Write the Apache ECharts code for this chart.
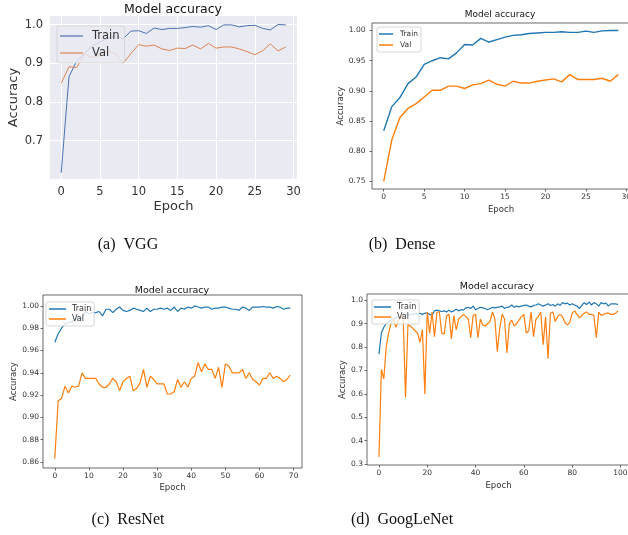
<!DOCTYPE html>
<html>
<head>
<meta charset="utf-8">
<script src="https://cdn.jsdelivr.net/npm/echarts@6/dist/echarts.min.js"></script>
<style>
  html, body { margin: 0; padding: 0; background: #fff; }
  #main { width: 628px; height: 535px; }
</style>
</head>
<body>
<div id="main"></div>
<script>
// accuracy per epoch
var vggTrain = [0.617, 0.865, 0.906, 0.925, 0.945, 0.955, 0.965, 0.97, 0.963, 0.983,
  0.984, 0.977, 0.991, 0.987, 0.99, 0.99, 0.992, 0.995, 0.993, 0.997,
  0.987, 0.999, 0.999, 0.994, 0.997, 0.998, 0.99, 0.986, 1.0, 0.999];
var vggVal = [0.848, 0.891, 0.889, 0.924, 0.915, 0.92, 0.93, 0.925, 0.9, 0.925,
  0.948, 0.944, 0.947, 0.937, 0.933, 0.939, 0.938, 0.947, 0.937, 0.951,
  0.939, 0.942, 0.942, 0.937, 0.93, 0.922, 0.932, 0.95, 0.932, 0.942];

var denseTrain = [0.834, 0.874, 0.889, 0.912, 0.923, 0.944, 0.95, 0.955, 0.953, 0.963,
  0.977, 0.976, 0.987, 0.981, 0.985, 0.989, 0.992, 0.993, 0.995, 0.996,
  0.997, 0.997, 0.998, 0.997, 0.997, 0.999, 0.997, 0.9995, 1.0, 1.0];
var denseVal = [0.75, 0.819, 0.856, 0.871, 0.879, 0.89, 0.901, 0.901, 0.908, 0.908,
  0.904, 0.91, 0.912, 0.918, 0.911, 0.908, 0.916, 0.913, 0.913, 0.916,
  0.918, 0.92, 0.915, 0.927, 0.919, 0.919, 0.919, 0.921, 0.916, 0.927];

var resTrain = [0.9675, 0.975, 0.98, 0.984, 0.985, 0.986, 0.988, 0.99, 0.988, 0.995,
  0.993, 0.994, 0.994, 0.995, 0.991, 0.997, 0.997, 0.994, 0.997, 0.999,
  0.996, 0.995, 0.996, 0.998, 0.997, 0.996, 0.995, 0.998, 0.995, 0.997,
  0.997, 0.998, 0.997, 0.998, 0.996, 0.999, 0.995, 0.998, 0.997, 0.999,
  0.998, 1.0, 0.999, 0.998, 0.999, 0.999, 0.997, 0.998, 0.998, 0.999,
  0.999, 0.998, 0.997, 0.997, 0.996, 0.999, 0.998, 0.996, 0.999, 0.999,
  0.999, 0.9995, 0.999, 0.999, 0.998, 0.9995, 0.999, 0.997, 0.998, 0.998];
var resVal = [0.863, 0.915, 0.917, 0.928, 0.922, 0.928, 0.927, 0.928, 0.94, 0.935,
  0.935, 0.935, 0.935, 0.93, 0.927, 0.927, 0.93, 0.935, 0.932, 0.924,
  0.932, 0.935, 0.937, 0.924, 0.926, 0.931, 0.943, 0.927, 0.937, 0.934,
  0.93, 0.93, 0.93, 0.921, 0.921, 0.923, 0.934, 0.927, 0.932, 0.927,
  0.935, 0.937, 0.949, 0.941, 0.948, 0.943, 0.943, 0.935, 0.945, 0.927,
  0.948, 0.946, 0.94, 0.94, 0.94, 0.943, 0.935, 0.94, 0.934, 0.932,
  0.929, 0.935, 0.935, 0.94, 0.935, 0.937, 0.935, 0.932, 0.934, 0.938];

var googTrain = [0.77, 0.86, 0.885, 0.9, 0.91, 0.915, 0.92, 0.925, 0.93, 0.93,
  0.935, 0.94, 0.935, 0.94, 0.94, 0.945, 0.94, 0.945, 0.94, 0.945,
  0.945, 0.94, 0.935, 0.955, 0.958, 0.955, 0.952, 0.955, 0.95, 0.958,
  0.95, 0.955, 0.962, 0.955, 0.96, 0.958, 0.968, 0.97, 0.965, 0.975,
  0.96, 0.965, 0.97, 0.968, 0.965, 0.96, 0.965, 0.97, 0.968, 0.97,
  0.972, 0.975, 0.965, 0.97, 0.972, 0.98, 0.97, 0.975, 0.972, 0.975,
  0.978, 0.98, 0.975, 0.972, 0.978, 0.98, 0.985, 0.98, 0.975, 0.98,
  0.985, 0.978, 0.982, 0.975, 0.985, 0.978, 0.99, 0.985, 0.988, 0.98,
  0.985, 0.98, 0.975, 0.965, 0.978, 0.99, 0.982, 0.992, 0.98, 0.99,
  0.985, 0.975, 0.99, 0.985, 0.988, 0.975, 0.985, 0.985, 0.985, 0.982];
var googVal = [0.33, 0.705, 0.664, 0.8, 0.86, 0.9, 0.92, 0.885, 0.91, 0.93,
  0.94, 0.585, 0.895, 0.89, 0.88, 0.87, 0.86, 0.82, 0.875, 0.6,
  0.95, 0.86, 0.95, 0.845, 0.95, 0.95, 0.86, 0.855, 0.935, 0.94,
  0.835, 0.935, 0.875, 0.92, 0.93, 0.94, 0.93, 0.92, 0.84, 0.935,
  0.94, 0.84, 0.92, 0.895, 0.89, 0.9, 0.91, 0.95, 0.92, 0.78,
  0.88, 0.94, 0.92, 0.775, 0.9, 0.915, 0.89, 0.9, 0.915, 0.93,
  0.94, 0.86, 0.87, 0.95, 0.845, 0.92, 0.93, 0.95, 0.81, 0.93,
  0.75, 0.945, 0.95, 0.91, 0.93, 0.94, 0.93, 0.905, 0.895, 0.905,
  0.945, 0.955, 0.94, 0.925, 0.935, 0.945, 0.95, 0.94, 0.94, 0.935,
  0.84, 0.95, 0.935, 0.94, 0.945, 0.945, 0.94, 0.94, 0.945, 0.955];

// tick labels
var epochTicks30 = [0, 5, 10, 15, 20, 25, 30];
var epochTicks70 = [0, 10, 20, 30, 40, 50, 60, 70];
var epochTicks100 = [0, 20, 40, 60, 80, 100];
var vggYTicks = [0.7, 0.8, 0.9, 1.0];
var denseYTicks = [0.75, 0.80, 0.85, 0.90, 0.95, 1.00];
var resYTicks = [0.86, 0.88, 0.90, 0.92, 0.94, 0.96, 0.98, 1.00];
var googYTicks = [0.3, 0.4, 0.5, 0.6, 0.7, 0.8, 0.9, 1.0];

var captions = ['(a)  VGG', '(b)  Dense', '(c)  ResNet', '(d)  GoogLeNet'];

var FONT = 'DejaVu Sans';
var myChart = echarts.init(document.getElementById('main'));

function toPairs(arr) {
  return arr.map(function (v, i) { return [i, v]; });
}

// plain matplotlib style axis (frame drawn by grid border)
function mplAxis(grid, min, max, ticks, digits, fontSize, name, nameGap, nameSize, isY, labelGap) {
  return {
    type: 'value', gridIndex: grid, min: min, max: max,
    axisLine: { show: false, onZero: false },
    axisTick: { show: true, length: 2.5, customValues: ticks, lineStyle: { color: '#444', width: 0.8 } },
    axisLabel: {
      customValues: ticks, color: '#333', fontFamily: FONT, fontSize: fontSize, margin: labelGap || 4,
      formatter: function (v) { return v.toFixed(digits); }
    },
    splitLine: { show: false },
    name: name, nameLocation: 'middle', nameGap: nameGap, nameRotate: isY ? 90 : 0,
    nameTextStyle: { color: '#333', fontFamily: FONT, fontSize: nameSize }
  };
}

// seaborn darkgrid style axis
function snsAxis(grid, min, max, ticks, digits, name, nameGap) {
  return {
    type: 'value', gridIndex: grid, min: min, max: max,
    axisLine: { show: false, onZero: false },
    axisTick: { show: false, customValues: ticks },
    axisLabel: {
      customValues: ticks, color: '#333', fontFamily: FONT, fontSize: 11.5, margin: 7,
      formatter: function (v) { return v.toFixed(digits); }
    },
    splitLine: { show: true, lineStyle: { color: '#fff', width: 1 } },
    name: name, nameLocation: 'middle', nameGap: nameGap,
    nameTextStyle: { color: '#333', fontFamily: FONT, fontSize: 13 }
  };
}

function lineSeries(name, grid, data, color, width) {
  return {
    name: name, type: 'line', xAxisIndex: grid, yAxisIndex: grid,
    data: toPairs(data), showSymbol: false, symbol: 'none', animation: false,
    lineStyle: { color: color, width: width }, itemStyle: { color: color }
  };
}

function legendBox(left, top, colors, opts) {
  return {
    orient: 'vertical', left: left, top: top, icon: 'rect',
    itemWidth: opts.itemWidth, itemHeight: opts.itemHeight, itemGap: opts.itemGap,
    padding: opts.padding, backgroundColor: opts.bg, borderColor: opts.border,
    borderWidth: 0.8, borderRadius: 2, selectedMode: false,
    textStyle: { fontFamily: FONT, fontSize: opts.fontSize, color: '#333', padding: [0, 0, 0, opts.textPad] },
    data: [
      { name: 'Train', itemStyle: { color: colors[0] } },
      { name: 'Val', itemStyle: { color: colors[1] } }
    ]
  };
}

function textEl(text, x, y, size, family, rotation) {
  return {
    type: 'text', x: x, y: y, rotation: rotation || 0,
    style: { text: text, fontSize: size, fontFamily: family, fill: '#111', textAlign: 'center', textVerticalAlign: 'middle' }
  };
}

var mplBlue = '#1f77b4', mplOrange = '#ff7f0e';
var snsBlue = '#4c72b0', snsOrange = '#dd8452';

var option = {
  animation: false,
  backgroundColor: '#fff',
  grid: [
    { left: 50, top: 16, width: 247, height: 163, show: true, backgroundColor: '#eaeaf2', borderWidth: 0, outerBoundsMode: 'none' },
    { left: 372, top: 23, width: 258, height: 166, show: true, borderColor: '#444', borderWidth: 0.8, outerBoundsMode: 'none' },
    { left: 43, top: 295, width: 259, height: 173, show: true, borderColor: '#444', borderWidth: 0.8, outerBoundsMode: 'none' },
    { left: 367, top: 294, width: 263, height: 171, show: true, borderColor: '#444', borderWidth: 0.8, outerBoundsMode: 'none' }
  ],
  xAxis: [
    snsAxis(0, -1.45, 30.45, epochTicks30, 0, 'Epoch', 21),
    mplAxis(1, -1.45, 30.45, epochTicks30, 0, 7.5, 'Epoch', 16, 8.5, false),
    mplAxis(2, -3.45, 72.45, epochTicks70, 0, 7.5, 'Epoch', 15, 8.5, false),
    mplAxis(3, -4.95, 103.95, epochTicks100, 0, 7.5, 'Epoch', 16, 8.5, false)
  ],
  yAxis: [
    snsAxis(0, 0.601, 1.022, vggYTicks, 1, 'Accuracy', 30),
    mplAxis(1, 0.7375, 1.0125, denseYTicks, 2, 7.5, 'Accuracy', 26, 8.5, true, 6.5),
    mplAxis(2, 0.8546, 1.0098, resYTicks, 2, 7.5, 'Accuracy', 25, 8.5, true),
    mplAxis(3, 0.296, 1.027, googYTicks, 1, 7.5, 'Accuracy', 19, 8.5, true)
  ],
  legend: [
    legendBox(57, 26, [snsBlue, snsOrange], { itemWidth: 23, itemHeight: 1.2, itemGap: 5, padding: [4, 5, 4, 3], bg: 'rgba(234,234,242,0.8)', border: 'rgba(204,204,204,0.8)', fontSize: 11.5, textPad: 4 }),
    legendBox(377, 27, [mplBlue, mplOrange], { itemWidth: 14, itemHeight: 1.5, itemGap: 3, padding: [3, 3, 3, 2], bg: 'rgba(255,255,255,0.8)', border: '#ccc', fontSize: 7.5, textPad: 2 }),
    legendBox(46, 302, [mplBlue, mplOrange], { itemWidth: 17, itemHeight: 1.5, itemGap: 2, padding: [3, 3, 3, 3], bg: 'rgba(255,255,255,0.8)', border: '#ccc', fontSize: 8, textPad: 1 }),
    legendBox(372, 300, [mplBlue, mplOrange], { itemWidth: 17, itemHeight: 1.5, itemGap: 2, padding: [3, 3, 3, 2], bg: 'rgba(255,255,255,0.8)', border: '#ccc', fontSize: 8, textPad: 1 })
  ],
  graphic: [
    textEl('Model accuracy', 173, 10, 12.5, FONT),
    textEl('Model accuracy', 500, 15, 9, FONT),
    textEl('Model accuracy', 172, 291, 9.5, FONT),
    textEl('Model accuracy', 497, 287, 9.5, FONT),
    textEl(captions[0], 128, 245, 16, 'Liberation Serif'),
    textEl(captions[1], 402, 245, 16, 'Liberation Serif'),
    textEl(captions[2], 128, 520, 16, 'Liberation Serif'),
    textEl(captions[3], 402, 520, 16, 'Liberation Serif')
  ],
  series: [
    lineSeries('Train', 0, vggTrain, snsBlue, 1),
    lineSeries('Val', 0, vggVal, snsOrange, 1),
    lineSeries('Train', 1, denseTrain, mplBlue, 1.4),
    lineSeries('Val', 1, denseVal, mplOrange, 1.4),
    lineSeries('Train', 2, resTrain, mplBlue, 1.2),
    lineSeries('Val', 2, resVal, mplOrange, 1.2),
    lineSeries('Train', 3, googTrain, mplBlue, 1.2),
    lineSeries('Val', 3, googVal, mplOrange, 1.2)
  ]
};

myChart.setOption(option);
</script>
</body>
</html>
